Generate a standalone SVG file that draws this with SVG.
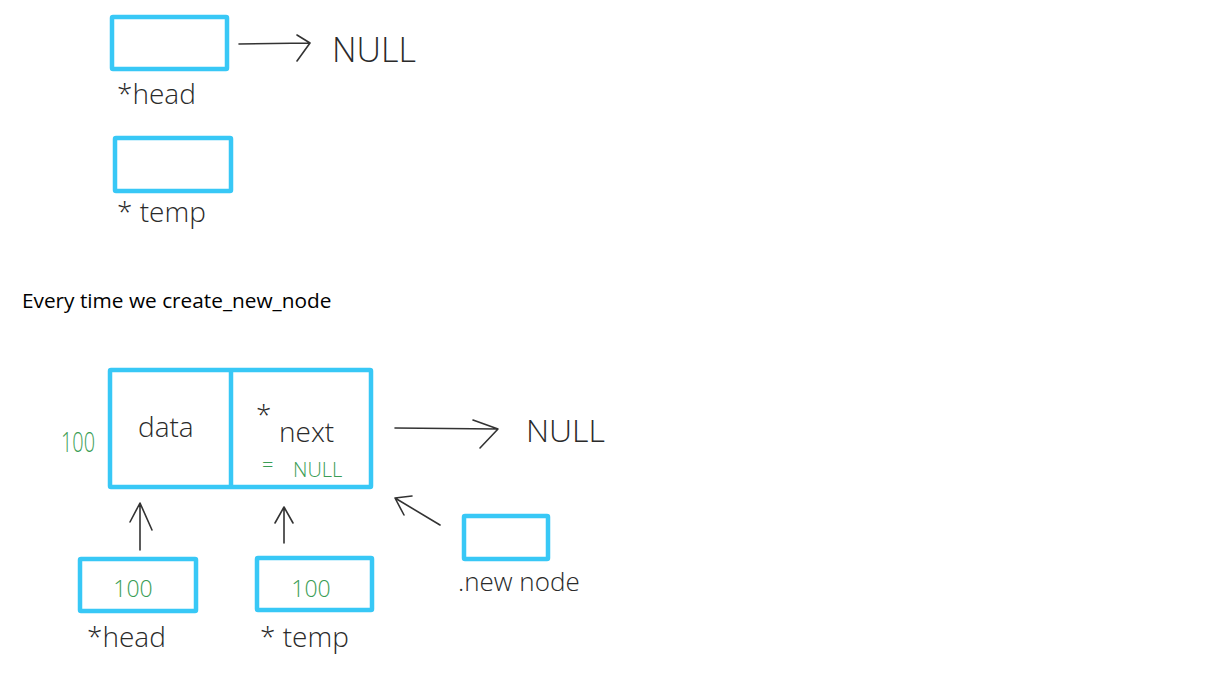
<svg xmlns="http://www.w3.org/2000/svg" width="1232" height="678" viewBox="0 0 1232 678">
<style>
.box{fill:none;stroke:#38c8f6;stroke-width:4.5;stroke-linejoin:round}
.hand{font-family:"Open Sans","DejaVu Sans",sans-serif;font-weight:300;fill:#2a2a2a}
.green{font-family:"Open Sans","DejaVu Sans",sans-serif;font-weight:300;fill:#3a9d55}
.ln{fill:none;stroke:#333;stroke-width:1.6;stroke-linecap:round;stroke-linejoin:round}
.cap{font-family:"Open Sans","Liberation Sans",sans-serif;fill:#000}
</style>
<rect width="1232" height="678" fill="#fff"/>

<g id="head-top">
<rect class="box" x="112" y="17" width="115" height="52" rx="1"/>
<text class="hand" x="117" y="104" font-size="28">*head</text>
</g>
<g id="null-top">
<text class="hand" x="332" y="62" font-size="34">NULL</text>
</g>
<g id="temp-top">
<rect class="box" x="115" y="138" width="116" height="53" rx="1"/>
<text class="hand" x="117" y="222" font-size="28">* temp</text>
</g>

<text class="cap" x="22" y="308" font-size="20.8">Every time we create_new_node</text>

<g id="node">
<rect class="box" x="110" y="370" width="261" height="117" rx="1"/>
<line class="box" x1="231" y1="370" x2="231" y2="487"/>
<text class="hand" x="138" y="437" font-size="28">data</text>
<text class="hand" x="256" y="425" font-size="28">*</text>
<text class="hand" x="279" y="442" font-size="28">next</text>
<text class="green" x="262" y="472" font-size="20">=</text>
<text class="green" x="293" y="477" font-size="20">NULL</text>
<text class="green" x="61" y="452" font-size="27" textLength="34" lengthAdjust="spacingAndGlyphs">100</text>
</g>
<g id="null-node">
<text class="hand" x="526" y="442" font-size="32">NULL</text>
</g>

<g id="head-node">
<rect class="box" x="80" y="559" width="116" height="52" rx="1"/>
<text class="green" x="133" y="597" font-size="23" text-anchor="middle">100</text>
<text class="hand" x="87" y="647" font-size="28">*head</text>
</g>
<g id="temp-node">
<rect class="box" x="257" y="558" width="115" height="52" rx="1"/>
<text class="green" x="311" y="597" font-size="23" text-anchor="middle">100</text>
<text class="hand" x="260" y="647" font-size="28">* temp</text>
</g>
<g id="new-node">
<rect class="box" x="464" y="516" width="84" height="43" rx="1"/>
<text class="hand" x="458" y="591" font-size="26">.new node</text>
</g>

<g id="connectors">
<path class="ln" d="M239 44 L310 43 M297 35 L310 43 L297 61"/>
<path class="ln" d="M395 428 L498 429 M473 420 L498 429 L480 448"/>
<path class="ln" d="M140 550 L140 503 M130 522 L140 503 L152 530"/>
<path class="ln" d="M284 543 L284 507 M275 523 L284 507 L293 523"/>
<path class="ln" d="M440 525 L395 498 M412 496 L395 498 L404 515"/>
</g>
</svg>
